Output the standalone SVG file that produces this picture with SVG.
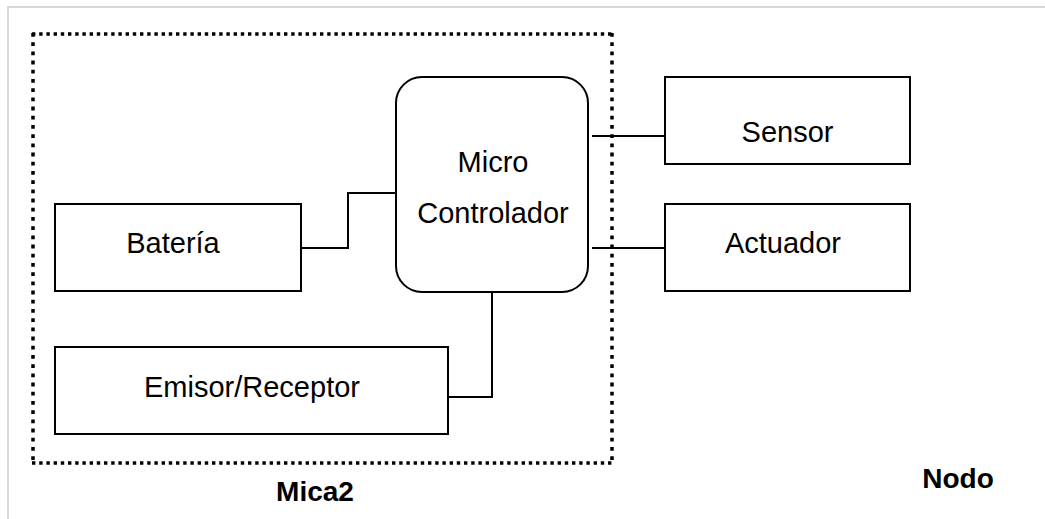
<svg xmlns="http://www.w3.org/2000/svg" width="1045" height="519" viewBox="0 0 1045 519">
<style>
.box{fill:#fff;stroke:#000;stroke-width:2}
.wire{fill:none;stroke:#000;stroke-width:2}
.lbl{font-family:"Liberation Sans",Arial,sans-serif;font-size:29px;fill:#000;text-anchor:middle}
.bold{font-family:"Liberation Sans",Arial,sans-serif;font-size:28px;font-weight:bold;fill:#000;text-anchor:middle}
.dh{stroke:#000;stroke-width:3.5;stroke-dasharray:3.4 3.8;fill:none}
.dv{stroke:#000;stroke-width:3.5;stroke-dasharray:3.8 5.4;fill:none}
</style>
<rect x="0" y="0" width="1045" height="519" fill="#fff"/>
<path d="M8 530 V7 H1050" fill="none" stroke="#d9d9d9" stroke-width="2"/>
<g id="mica2">
<line class="dh" x1="32" y1="34" x2="613" y2="34"/>
<line class="dh" x1="32" y1="463" x2="613" y2="463"/>
<line class="dv" x1="33" y1="33" x2="33" y2="464"/>
<line class="dv" x1="612" y1="33" x2="612" y2="464"/>
<text class="bold" x="315" y="501">Mica2</text>
</g>
<g id="connectors">
<path class="wire" d="M301 248 H348 V193 H396"/>
<path class="wire" d="M592 136 H665"/>
<path class="wire" d="M592 248 H665"/>
<path class="wire" d="M448 397 H492 V292"/>
</g>
<g id="micro">
<rect class="box" x="396" y="77" width="192" height="215" rx="26" ry="26"/>
<text class="lbl" x="493" y="172">Micro</text>
<text class="lbl" x="493" y="223">Controlador</text>
</g>
<g id="bateria">
<rect class="box" x="55" y="204" width="246" height="87"/>
<text class="lbl" x="173" y="253">Batería</text>
</g>
<g id="sensor">
<rect class="box" x="665" y="77" width="245" height="87"/>
<text class="lbl" x="787.5" y="142">Sensor</text>
</g>
<g id="actuador">
<rect class="box" x="665" y="204" width="245" height="87"/>
<text class="lbl" x="783" y="253">Actuador</text>
</g>
<g id="emisor">
<rect class="box" x="55" y="347" width="393" height="87"/>
<text class="lbl" x="252" y="397">Emisor/Receptor</text>
</g>
<g id="nodo">
<text class="bold" x="958" y="488">Nodo</text>
</g>
</svg>
